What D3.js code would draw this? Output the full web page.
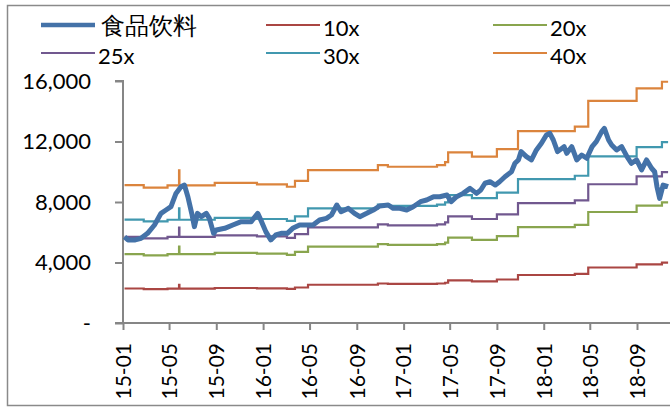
<!DOCTYPE html>
<html>
<head>
<meta charset="utf-8">
<script src="https://cdn.jsdelivr.net/npm/d3@7"></script>
<style>
  html, body { margin: 0; padding: 0; background: #fff; }
  svg { display: block; }
  text { font-family: Lato, "Noto Sans", sans-serif; fill: #000; }
</style>
</head>
<body>
<svg id="chart" width="670" height="409"></svg>
<script>
// ---------- DATA ----------
const seriesNames = ["食品饮料", "10x", "20x", "25x", "30x", "40x"];
const seriesColors = ["#4472A8", "#AA4643", "#89A54E", "#71588F", "#4198AF", "#DB843D"];

const xTickLabels = ["15-01","15-05","15-09","16-01","16-05","16-09","17-01","17-05","17-09","18-01","18-05","18-09"];
const yTickValues = [0, 4000, 8000, 12000, 16000];
const yTickLabels = ["-", "4,000", "8,000", "12,000", "16,000"];

// 食品饮料 index
const indexDates = [
  "2015-01-05","2015-01-14","2015-02-02","2015-02-17","2015-03-06","2015-03-24","2015-04-10","2015-04-23",
  "2015-05-06","2015-05-19","2015-06-01","2015-06-10","2015-06-19","2015-06-29","2015-07-06","2015-07-14",
  "2015-07-24","2015-08-06","2015-08-14","2015-08-25","2015-09-01","2015-09-23","2015-10-14","2015-11-05",
  "2015-12-01","2015-12-18","2015-12-28","2016-01-08","2016-01-21","2016-02-03","2016-02-17","2016-03-04",
  "2016-03-18","2016-04-05","2016-04-22","2016-05-10","2016-05-27","2016-06-14","2016-06-27","2016-07-11",
  "2016-07-22","2016-08-10","2016-08-26","2016-09-09","2016-09-27","2016-10-14","2016-10-31","2016-11-22",
  "2016-12-05","2016-12-22","2017-01-09","2017-01-26","2017-02-14","2017-03-02","2017-03-20","2017-04-05",
  "2017-04-24","2017-05-05","2017-05-19","2017-06-05","2017-06-23","2017-07-10","2017-07-21","2017-08-01",
  "2017-08-14","2017-08-28","2017-09-08","2017-09-22","2017-10-09","2017-10-18","2017-10-27","2017-11-03",
  "2017-11-17","2017-11-30","2017-12-13","2017-12-26","2018-01-08","2018-01-17","2018-01-26","2018-02-06",
  "2018-02-23","2018-03-02","2018-03-15","2018-03-28","2018-04-10","2018-04-23","2018-05-07","2018-05-18",
  "2018-06-01","2018-06-08","2018-06-19","2018-06-27","2018-07-10","2018-07-23","2018-08-06","2018-08-17",
  "2018-08-31","2018-09-13","2018-09-26","2018-10-09","2018-10-17","2018-10-23","2018-10-30","2018-11-08",
  "2018-11-21"
];
const indexValues = [
  5700,5490,5490,5600,5930,6480,7250,7470,
  7690,8570,9010,9120,8350,7250,6370,7250,
  7030,7250,6920,5930,6150,6260,6480,6700,
  6700,7250,6700,6040,5490,5820,5930,5930,
  6260,6480,6480,6480,6810,6920,7140,7800,
  7360,7580,7250,7030,7250,7470,7740,7800,
  7580,7580,7470,7690,8020,8130,8350,8350,
  8460,8020,8350,8570,8900,8570,8790,9240,
  9340,9120,9340,9670,10000,10560,10780,11330,
  11000,10780,11440,11880,12430,12540,12100,11330,
  11660,11220,11660,10780,11110,10890,11660,11990,
  12650,12870,12100,11770,11440,11660,11000,10560,
  10780,10120,10780,10230,10000,9010,8240,9120,
  9010
];

// PE band step dates and levels
const bandDates = [
  "2015-01-05","2015-02-24","2015-04-27","2015-05-27","2015-05-28","2015-08-28","2015-12-16","2016-03-03",
  "2016-03-24","2016-04-27","2016-10-26","2016-11-21","2017-03-29","2017-04-19","2017-04-27","2017-06-28",
  "2017-09-01","2017-10-26","2018-03-23","2018-04-27","2018-08-31","2018-11-05","2018-11-21"
];
const pe10 = [2280,2238,2275,2525,2275,2315,2292,2252,2348,2528,2610,2583,2610,2660,2820,2750,2875,3172,3245,3670,3878,3988,3988];
const pe20 = [4560,4476,4550,5050,4550,4630,4584,4504,4696,5056,5220,5166,5220,5320,5640,5500,5750,6344,6490,7340,7756,7976,7976];
const pe25 = [5700,5595,5688,6313,5688,5788,5730,5630,5870,6320,6525,6458,6525,6650,7050,6875,7188,7930,8113,9175,9695,9970,9970];
const pe30 = [6840,6714,6825,7575,6825,6945,6876,6756,7044,7584,7830,7749,7830,7980,8460,8250,8625,9516,9735,11010,11634,11964,11964];
const pe40 = [9120,8952,9100,10100,9100,9260,9168,9008,9392,10112,10440,10332,10440,10640,11280,11000,11500,12688,12980,14680,15512,15952,15952];

// ---------- CHART ----------
const parse = d3.timeParse("%Y-%m-%d");
const svg = d3.select("#chart");
const axisColor = "#868686";

// outer frame
svg.append("rect")
  .attr("x", 7.5).attr("y", 5.5).attr("width", 700).attr("height", 400)
  .attr("fill", "none").attr("stroke", "#8a8a8a").attr("stroke-width", 1.5);

const x = d3.scaleTime()
  .domain([parse("2015-01-01"), parse("2018-09-01")])
  .range([123, 637]);
const y = d3.scaleLinear().domain([0, 16000]).range([323, 81]);

// y axis
const yAxisG = svg.append("g").attr("transform", "translate(123,0)")
  .call(d3.axisLeft(y).tickValues(yTickValues).tickSize(8).tickPadding(24)
    .tickFormat((d, i) => yTickLabels[i]));
yAxisG.select(".domain").attr("stroke", axisColor).attr("stroke-width", 2).attr("d", `M-8,${y(16000)}H0V${y(0)}`);
yAxisG.selectAll(".tick line").attr("stroke", axisColor).attr("stroke-width", 2);
yAxisG.selectAll(".tick text").attr("font-size", 22).attr("font-family", "Lato, sans-serif").attr("fill", "#000");

// x axis
const xTickDates = xTickLabels.map(s => parse("20" + s + "-01"));
const xAxisG = svg.append("g").attr("transform", `translate(0,${y(0)})`)
  .call(d3.axisBottom(x).tickValues(xTickDates).tickSize(7).tickFormat((d, i) => xTickLabels[i]));
xAxisG.select(".domain").attr("stroke", axisColor).attr("stroke-width", 2).attr("d", "M115,0H680");
xAxisG.selectAll(".tick line").attr("stroke", axisColor).attr("stroke-width", 2);
xAxisG.selectAll(".tick text")
  .attr("font-size", 21).attr("font-family", "Lato, sans-serif").attr("fill", "#000")
  .attr("text-anchor", "end")
  .attr("transform", "translate(0,20) rotate(-90)")
  .attr("x", 0).attr("y", 0).attr("dy", "0.35em");

// bands
const bandSeries = [pe10, pe20, pe25, pe30, pe40];
const bandLine = d3.line().curve(d3.curveStepAfter)
  .x(d => x(d.date)).y(d => y(d.value));
bandSeries.forEach((vals, k) => {
  const data = bandDates.map((s, i) => ({ date: parse(s), value: vals[i] }));
  svg.append("path").datum(data)
    .attr("d", bandLine)
    .attr("fill", "none")
    .attr("stroke", seriesColors[k + 1])
    .attr("stroke-width", 2.2);
});

// index
const idxData = indexDates.map((s, i) => ({ date: parse(s), value: indexValues[i] }));
svg.append("path").datum(idxData)
  .attr("d", d3.line().x(d => x(d.date)).y(d => y(d.value)))
  .attr("fill", "none")
  .attr("stroke", seriesColors[0])
  .attr("stroke-width", 5)
  .attr("stroke-linejoin", "round");

// legend
const legendCols = [41, 266, 493];
const legendRows = [25, 53];
seriesNames.forEach((name, i) => {
  const cx = legendCols[i % 3], cy = legendRows[Math.floor(i / 3)];
  svg.append("line")
    .attr("x1", cx).attr("x2", cx + 54).attr("y1", cy).attr("y2", cy)
    .attr("stroke", seriesColors[i]).attr("stroke-width", i === 0 ? 4.5 : 2.2);
  const isCJK = i === 0;
  svg.append("text")
    .attr("x", cx + (isCJK ? 60 : 57)).attr("y", cy + (isCJK ? 9 : 11))
    .attr("font-size", isCJK ? 24 : 22)
    .attr("font-family", isCJK ? "'Noto Sans CJK SC', sans-serif" : "Lato, sans-serif")
    .text(name);
});
</script>
</body>
</html>
